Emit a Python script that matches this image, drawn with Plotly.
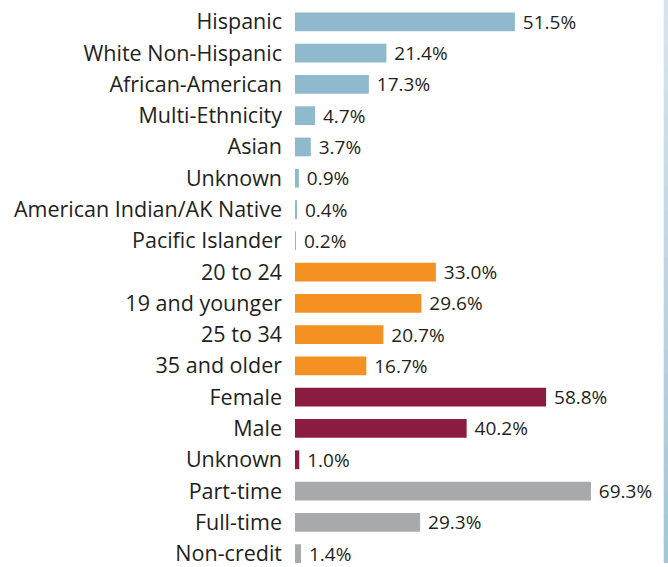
import plotly.graph_objects as go

labels = ["Hispanic", "White Non-Hispanic", "African-American", "Multi-Ethnicity", "Asian",
          "Unknown", "American Indian/AK Native", "Pacific Islander",
          "20 to 24", "19 and younger", "25 to 34", "35 and older",
          "Female", "Male", "Unknown",
          "Part-time", "Full-time", "Non-credit"]
values = [51.5, 21.4, 17.3, 4.7, 3.7, 0.9, 0.4, 0.2,
          33.0, 29.6, 20.7, 16.7,
          58.8, 40.2, 1.0,
          69.3, 29.3, 1.4]
groups = ["eth"] * 8 + ["age"] * 4 + ["sex"] * 3 + ["load"] * 3
group_colors = {"eth": "#8fb9cc", "age": "#f39222", "sex": "#8c1c3f", "load": "#a7a9ac"}

positions = list(range(len(labels)))
colors = [group_colors[g] for g in groups]

fig = go.Figure(go.Bar(
    x=values, y=positions, orientation="h",
    marker=dict(color=colors, line=dict(width=0)),
    text=[f" {v:.1f}%" for v in values], textposition="outside",
    constraintext="none",
    textfont=dict(family="Open Sans", size=19, color="#231f20"),
    cliponaxis=False, width=0.6,
))

# decorative right-edge stripe with a vertical gradient (light top -> darker bottom)
top_rgb = (0xd6, 0xe5, 0xed)
bot_rgb = (0xa4, 0xc6, 0xd8)
n_bands = 24
shapes = []
for i in range(n_bands):
    t = i / (n_bands - 1)
    r, g, b = (round(top_rgb[k] + (bot_rgb[k] - top_rgb[k]) * t) for k in range(3))
    shapes.append(dict(type="rect", xref="paper", yref="paper",
                       x0=0.9885, x1=1.0,
                       y0=1 - (i + 1) / n_bands, y1=1 - i / n_bands + 0.002,
                       fillcolor=f"rgb({r},{g},{b})", line=dict(width=0), layer="above"))

fig.update_layout(
    width=668, height=567,
    margin=dict(l=295, r=0, t=0, b=0, pad=0),
    paper_bgcolor="white", plot_bgcolor="white",
    showlegend=False,
    xaxis=dict(range=[0, 87.35], visible=False),
    yaxis=dict(range=[17.30, -0.698], tickvals=positions, ticktext=labels,
               showgrid=False, zeroline=False, showline=False,
               ticks="", ticklabelstandoff=12, ticklabeloverflow="allow",
               tickfont=dict(family="Open Sans", size=21.5, color="#231f20")),
    shapes=shapes,
)

fig.write_html("out.html", config={"displayModeBar": False},
               post_script="document.body.style.margin='0';document.body.style.overflow='hidden';")
